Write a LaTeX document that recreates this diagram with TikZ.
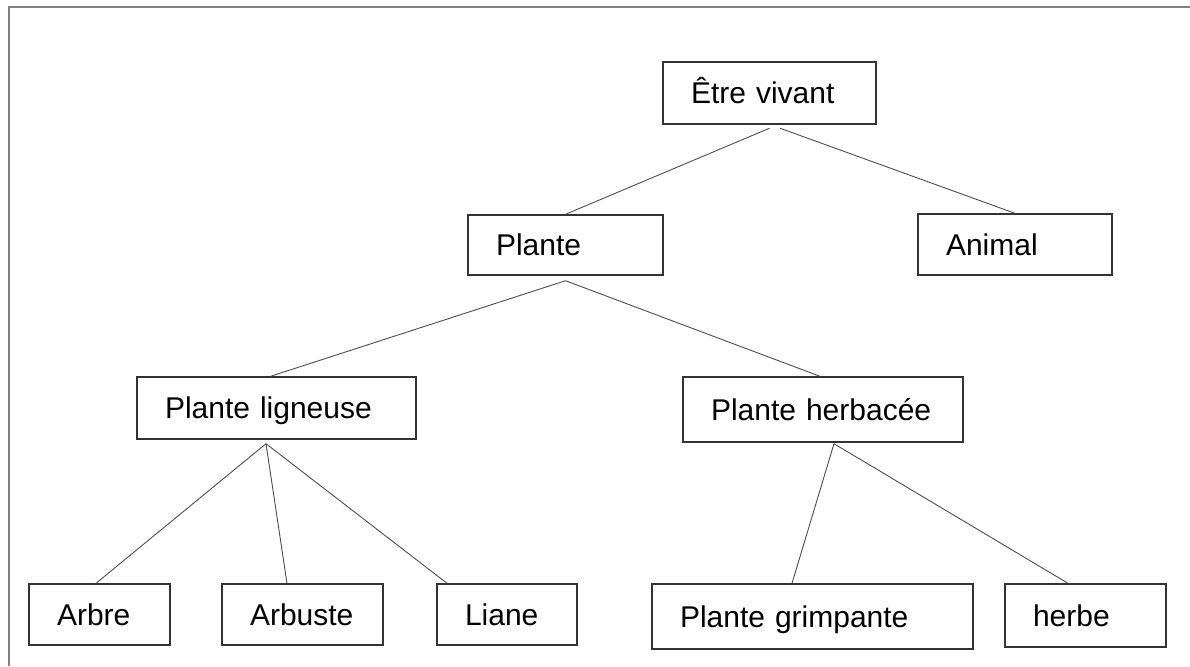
\documentclass[tikz,border=0pt]{standalone}
\usepackage{fontspec}
\setmainfont{Liberation Sans}
\usepackage{tikz}

\begin{document}
\begin{tikzpicture}[x=0.5pt, y=-0.5pt,
    box/.style={draw=black!80, line width=0.7pt, align=left, inner xsep=14pt,
      text height=10.5pt, text depth=0pt, font=\fontsize{15pt}{18pt}\selectfont},
    link/.style={draw=black!70, line width=0.45pt},
    frame/.style={draw=black!50, line width=1.2pt}]

  \useasboundingbox (0,0) rectangle (1190,666);
  \coordinate (fr-bl) at (9,666);
  \coordinate (fr-tl) at (9,7);
  \coordinate (fr-tr) at (1190,7);
  \draw[frame] (fr-bl) -- (fr-tl) -- (fr-tr);

  % top
  \node[box, text width=78.5pt, minimum height=31pt] (ev) at (769.5,93) {Être vivant}; %

  % level 1
  \node[box, text width=69.5pt, minimum height=30pt] (plante) at (565.5,245) {Plante}; %
  \node[box, text width=69pt, minimum height=30.5pt] (animal) at (1015,244.5) {Animal}; %

  % level 2
  \node[box, text width=111.5pt, minimum height=31pt] (ligneuse) at (276.5,408) {Plante ligneuse}; %
  \node[box, text width=112pt, minimum height=32.5pt] (herbacee) at (823,409.5) {Plante herbacée}; %

  % leaves
  \node[box, text width=42.5pt, minimum height=30.5pt] (arbre) at (99.5,614.5) {Arbre}; %
  \node[box, text width=52.5pt, minimum height=30.5pt] (arbuste) at (302.5,614.5) {Arbuste}; %
  \node[box, text width=42pt, minimum height=30.5pt] (liane) at (507,614.5) {Liane}; %
  \node[box, text width=132.5pt, minimum height=32.5pt] (grimpante) at (812.5,616.5) {Plante grimpante}; %
  \node[box, text width=52.5pt, minimum height=31.5pt] (herbe) at (1085.5,615.5) {herbe}; %

  % junctions below the boxes
  \coordinate (ev-a) at ([yshift=-1.75pt]ev.south);
  \coordinate (ev-b) at ([xshift=5.25pt, yshift=-1.75pt]ev.south);
  \coordinate (plante-j) at ([yshift=-2.5pt]plante.south);
  \coordinate (ligneuse-j) at ([xshift=-5.25pt, yshift=-2pt]ligneuse.south);
  \coordinate (herbacee-j) at ([xshift=5.5pt, yshift=-0.5pt]herbacee.south);

  % links
  \draw[link] (ev-a) -- (plante.north);
  \draw[link] (ev-b) -- (animal.north);
  \draw[link] (plante-j) -- ([xshift=-3pt]ligneuse.north);
  \draw[link] (plante-j) -- ([xshift=-1.5pt]herbacee.north);
  \draw[link] (ligneuse-j) -- ([xshift=-1.75pt]arbre.north);
  \draw[link] (ligneuse-j) -- ([xshift=-7.75pt]arbuste.north);
  \draw[link] (ligneuse-j) -- ([xshift=-30pt]liane.north);
  \draw[link] (herbacee-j) -- ([xshift=-10.25pt]grimpante.north);
  \draw[link] (herbacee-j) -- ([xshift=-8.75pt]herbe.north);

\end{tikzpicture}
\end{document}
